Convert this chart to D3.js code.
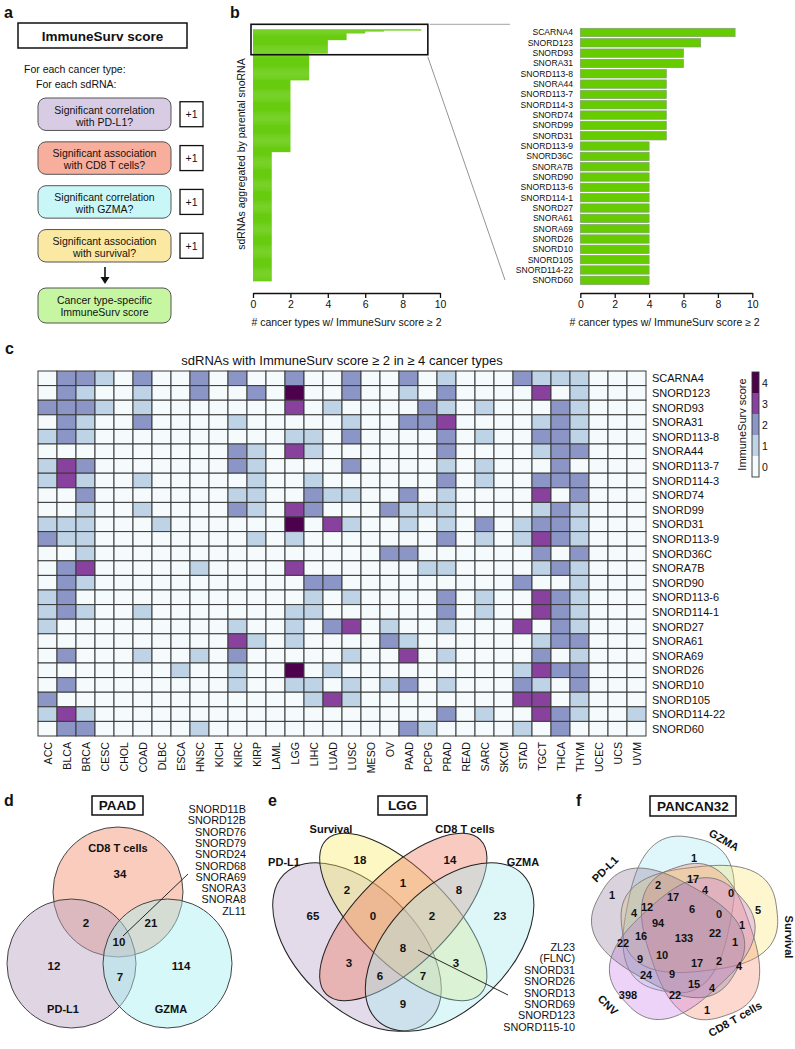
<!DOCTYPE html>
<html><head><meta charset="utf-8">
<script src="https://cdn.jsdelivr.net/npm/d3@7"></script>
<style>
body{margin:0;background:#fff;}
svg{display:block;font-family:"Liberation Sans",Arial,Helvetica,sans-serif;}
</style></head><body>
<svg id="fig" width="795" height="1049"></svg>
<script>
// ================= DATA =================
const flowTitle = "ImmuneSurv score";
const flowIntro = ["For each cancer type:", "For each sdRNA:"];
const flowSteps = [
  ["Significant correlation", "with PD-L1?"],
  ["Significant association", "with CD8 T cells?"],
  ["Significant correlation", "with GZMA?"],
  ["Significant association", "with survival?"]
];
const flowStepScore = "+1";
const flowResult = ["Cancer type-specific", "ImmuneSurv score"];

const topNames = ["SCARNA4","SNORD123","SNORD93","SNORA31","SNORD113-8","SNORA44","SNORD113-7","SNORD114-3","SNORD74","SNORD99","SNORD31","SNORD113-9","SNORD36C","SNORA7B","SNORD90","SNORD113-6","SNORD114-1","SNORD27","SNORA61","SNORA69","SNORD26","SNORD10","SNORD105","SNORD114-22","SNORD60"];
const topValues = [9,7,6,6,5,5,5,5,5,5,5,4,4,4,4,4,4,4,4,4,4,4,4,4,4];
// remaining parental snoRNAs (sorted)
const otherValues = [
  3,3,3,3,3,3,3,3,3,3, 3,3,3,3,3,3,3,3,3,3, 3,3,3,3,3,3,3,3,
  2,2,2,2,2,2,2,2,2,2, 2,2,2,2,2,2,2,2,2,2, 2,2,2,2,2,2,2,2,2,2,
  2,2,2,2,2,2,2,2,2,2, 2,2,2,2,2,2,2,2,2,2, 2,2,2,2,2,2,2,2,2,2,
  2,2,2,2,2,2,2,2,2,2, 2,2,2,2,2,
  1,1,1,1,1,1,1,1,1,1, 1,1,1,1,1,1,1,1,1,1, 1,1,1,1,1,1,1,1,1,1,
  1,1,1,1,1,1,1,1,1,1, 1,1,1,1,1,1,1,1,1,1, 1,1,1,1,1,1,1,1,1,1,
  1,1,1,1,1,1,1,1,1,1, 1,1,1,1,1,1,1,1,1,1, 1,1,1,1,1,1,1,1,1,1,
  1,1,1,1,1,1,1,1,1,1, 1,1,1,1,1,1,1,1,1,1, 1,1,1,1,1,1,1,1,1,1,
  1,1,1,1,1,1,1,1,1,1, 1,1,1,1,1
];
const barTicks = [0,2,4,6,8,10];
const barAxisTitle = "# cancer types w/ ImmuneSurv score \u2265 2";
const barYTitle = "sdRNAs aggregated by parental snoRNA";

const cancerTypes = ["ACC","BLCA","BRCA","CESC","CHOL","COAD","DLBC","ESCA","HNSC","KICH","KIRC","KIRP","LAML","LGG","LIHC","LUAD","LUSC","MESO","OV","PAAD","PCPG","PRAD","READ","SARC","SKCM","STAD","TGCT","THCA","THYM","UCEC","UCS","UVM"];
const heatValues = [
  [0,2,2,1,0,2,0,0,2,0,2,0,0,2,0,0,2,0,0,2,0,1,0,0,0,2,1,1,1,0,0,0],
  [0,2,1,0,0,1,0,0,2,0,0,2,0,4,0,0,2,0,0,1,0,2,0,0,0,0,3,0,1,0,0,0],
  [2,2,2,1,0,1,0,0,0,0,0,0,0,3,0,1,0,0,0,0,2,1,0,1,0,0,0,2,1,0,0,0],
  [0,2,1,0,0,2,0,0,0,0,1,0,0,0,0,0,1,0,0,2,2,3,0,0,0,0,1,2,1,0,0,0],
  [1,2,1,0,0,0,0,0,0,0,0,0,0,1,1,0,2,0,0,0,0,2,0,1,0,0,2,2,1,0,0,0],
  [0,0,0,0,0,0,0,0,0,0,2,1,0,3,1,0,0,0,0,0,0,2,0,0,0,0,1,2,2,0,0,0],
  [1,3,2,0,0,0,0,0,0,0,2,1,0,0,0,0,2,0,0,0,0,1,0,1,0,0,0,2,0,0,0,0],
  [1,3,1,0,0,1,0,0,0,0,0,1,0,0,1,0,0,0,0,0,0,2,0,1,0,0,2,2,2,0,0,0],
  [0,0,2,0,0,0,0,0,0,0,1,1,0,0,2,1,1,0,0,2,0,1,0,0,0,0,3,0,2,0,0,0],
  [0,0,1,0,0,1,0,0,0,0,2,1,0,3,2,0,0,0,2,1,1,1,0,0,0,0,1,2,1,0,0,0],
  [1,1,1,0,0,0,1,0,0,0,0,0,0,4,0,3,1,0,0,1,0,1,0,2,0,1,2,2,1,0,0,0],
  [2,1,1,0,0,0,0,0,0,0,0,1,0,1,0,0,0,0,0,0,0,2,0,1,0,1,3,2,1,0,0,0],
  [0,0,1,0,0,0,0,0,0,0,0,0,0,0,0,0,0,0,2,2,0,0,0,0,0,0,2,0,2,0,0,0],
  [0,2,3,0,0,0,0,0,1,0,0,0,0,3,0,0,0,0,0,0,1,1,0,0,0,0,1,2,1,0,0,0],
  [0,2,1,0,0,0,0,0,0,0,0,0,0,0,2,2,0,0,0,0,0,0,0,0,0,2,0,0,1,0,0,0],
  [1,2,0,0,0,0,0,0,0,0,0,0,0,0,1,0,1,0,0,0,0,2,0,1,0,0,3,2,1,0,0,0],
  [1,2,1,0,0,1,0,0,0,0,0,0,0,1,1,0,0,0,0,0,0,2,0,1,0,0,3,2,1,0,0,0],
  [1,0,0,0,0,0,0,0,0,0,1,0,0,1,0,2,3,0,1,0,0,1,0,0,0,3,0,2,1,0,0,0],
  [0,0,0,0,0,0,0,0,0,0,3,1,0,1,0,0,0,0,2,1,0,0,0,0,0,0,1,2,2,0,0,0],
  [0,2,0,0,0,1,0,0,1,0,2,0,0,0,0,0,1,0,0,3,0,1,0,0,0,0,2,0,1,0,0,0],
  [0,0,0,0,0,0,0,1,0,0,1,0,0,4,0,1,0,0,0,0,0,0,0,0,0,1,3,2,2,0,0,0],
  [0,2,0,0,0,0,0,0,0,0,1,0,0,1,1,0,1,0,1,2,0,1,0,0,0,2,1,0,2,0,0,0],
  [2,0,0,0,0,0,0,0,0,0,0,0,0,0,1,3,1,0,0,0,0,0,0,0,0,3,3,0,1,0,0,0],
  [1,3,1,0,0,0,0,0,0,0,0,0,0,0,0,0,0,0,0,0,0,2,0,1,0,0,3,2,1,0,0,1],
  [0,2,2,0,0,0,0,0,1,0,0,0,0,0,0,0,0,0,0,2,1,0,0,0,0,1,0,2,0,0,0,0]
];
const heatTitle = "sdRNAs with ImmuneSurv score \u2265 2 in \u2265 4 cancer types";
const legendLevels = [4,3,2,1,0];
const legendTitle = "ImmuneSurv score";

// Venn d (PAAD): regions C, P, G, CP, CG, PG, CPG
const paadTitle = "PAAD";
const paadSets = ["CD8 T cells","PD-L1","GZMA"];
const paadRegionCounts = [34,12,114,2,21,7,10];
const paadList = ["SNORD11B","SNORD12B","SNORD76","SNORD79","SNORD24","SNORD68","SNORA69","SNORA3","SNORA8","ZL11"];

// Venn e (LGG): regions P,S,C,G,PS,SC,CG,PSC,SCG,PC,PSCG,SG,PCG,PSG,PG
const lggTitle = "LGG";
const lggSets = ["PD-L1","Survival","CD8 T cells","GZMA"];
const lggRegionCounts = [65,18,14,23,2,1,8,0,2,3,8,3,6,7,9];
const lggList = ["ZL23","(FLNC)","SNORD31","SNORD26","SNORD13","SNORD69","SNORD123","SNORD115-10"];

// Venn f (PANCAN32)
const pancanTitle = "PANCAN32";
const pancanSets = ["GZMA","Survival","CD8 T cells","CNV","PD-L1"];
const pancanRegionCounts = [1,2,17,1,4,0,5,17,6,0,4,12,94,1,16,133,22,1,22,9,10,17,2,4,24,9,15,4,398,22,1];

// ================= LAYOUT / STYLE =================
const svg = d3.select("#fig");
function txt(g, x, y, s, size, opts={}) {
  const t = g.append("text").attr("x", x).attr("y", y).text(s)
    .attr("font-size", size).attr("fill", "#111");
  if (opts.anchor) t.attr("text-anchor", opts.anchor);
  if (opts.bold) t.attr("font-weight", "bold");
  if (opts.rot !== undefined) t.attr("transform", `rotate(${opts.rot},${x},${y})`);
  if (opts.mid) t.attr("dominant-baseline", "central");
  return t;
}

// panel letters
[["a",4,18],["b",230,18],["c",5,354],["d",4,806],["e",268,806],["f",576,806]].forEach(p =>
  txt(svg, p[1], p[2], p[0], 16, {bold:true}));

// ---------- panel a ----------
const ga = svg.append("g");
ga.append("rect").attr("x",18).attr("y",23).attr("width",169).attr("height",25)
  .attr("fill","#fff").attr("stroke","#111").attr("stroke-width",1.5);
txt(ga, 102.5, 40.5, flowTitle, 13.5, {anchor:"middle", bold:true});
txt(ga, 24, 73, flowIntro[0], 10.5);
txt(ga, 36, 88, flowIntro[1], 10.5);
const stepFill = ["#d8cce4","#f8ae9c","#c9f7f8","#fbe8a2"];
const stepY = d3.scaleBand().domain(d3.range(flowSteps.length)).range([98,262]).paddingInner(0.26);
flowSteps.forEach((lines,i)=>{
  const y = stepY(i), h = stepY.bandwidth();
  ga.append("rect").attr("x",38).attr("y",y).attr("width",133).attr("height",h)
    .attr("rx",8).attr("fill",stepFill[i]).attr("stroke","#555").attr("stroke-width",1);
  txt(ga, 104.5, y+15.5, lines[0], 10.5, {anchor:"middle"});
  txt(ga, 104.5, y+27.5, lines[1], 10.5, {anchor:"middle"});
  ga.append("rect").attr("x",180).attr("y",y+h/2-12.5).attr("width",23).attr("height",25)
    .attr("fill","#fff").attr("stroke","#111").attr("stroke-width",1.3);
  txt(ga, 191.5, y+h/2+4, flowStepScore, 10.5, {anchor:"middle"});
});
ga.append("line").attr("x1",105).attr("x2",105).attr("y1",267).attr("y2",278)
  .attr("stroke","#111").attr("stroke-width",1.6);
ga.append("path").attr("d","M100.5,277 L109.5,277 L105,284 Z").attr("fill","#111");
ga.append("rect").attr("x",38).attr("y",288).attr("width",133).attr("height",35)
  .attr("rx",8).attr("fill","#c6f6a2").attr("stroke","#555");
txt(ga, 104.5, 303.5, flowResult[0], 10.5, {anchor:"middle"});
txt(ga, 104.5, 316, flowResult[1], 10.5, {anchor:"middle"});

// ---------- panel b ----------
const gb = svg.append("g");
const allValues = topValues.concat(otherValues);
const xL = d3.scaleLinear().domain([0,10]).range([253,440]);
const yL = d3.scaleBand().domain(d3.range(allValues.length)).range([29.3,281]);
gb.selectAll(".barL").data(allValues).join("rect")
  .attr("x", xL(0)).attr("y",(d,i)=>yL(i))
  .attr("width", d=>xL(d)-xL(0)).attr("height", yL.bandwidth()+0.35)
  .attr("fill","#68cc10");
const boxTop = yL(0)-5, boxBot = yL(topValues.length-1)+yL.bandwidth()+1.5;
gb.append("rect").attr("x",xL(0)-2).attr("y",boxTop).attr("width",xL(9.35)-xL(0)+2)
  .attr("height",boxBot-boxTop).attr("fill","none").attr("stroke","#111").attr("stroke-width",1.6);
gb.append("line").attr("x1",xL(9.4)+1).attr("y1",boxTop).attr("x2",510).attr("y2",boxTop)
  .attr("stroke","#999").attr("stroke-width",0.9);
gb.append("line").attr("x1",xL(9.4)-1).attr("y1",boxBot+2).attr("x2",505).attr("y2",280)
  .attr("stroke","#888").attr("stroke-width",0.9);
const axL = gb.append("g").attr("transform","translate(0,293)")
  .call(d3.axisBottom(xL).tickValues(barTicks).tickSize(5).tickSizeOuter(0));
txt(gb, xL(5), 326, barAxisTitle, 10.5, {anchor:"middle"});
txt(gb, 244.5, 154, barYTitle, 10.5, {anchor:"middle", rot:-90});

const xR = d3.scaleLinear().domain([0,10]).range([580.3,752.3]);
const yR = d3.scaleBand().domain(topNames).range([28.3,284.5]).paddingInner(0.19).paddingOuter(0);
gb.selectAll(".barR").data(topNames).join("rect")
  .attr("x", xR(0)).attr("y", d=>yR(d))
  .attr("width",(d,i)=>xR(topValues[i])-xR(0)).attr("height", yR.bandwidth())
  .attr("fill","#66cc00").attr("stroke","#7f9f70").attr("stroke-width",0.7);
gb.selectAll(".lblR").data(topNames).join("text")
  .attr("x", 573).attr("y", d=>yR(d)+yR.bandwidth()/2).attr("dominant-baseline","central")
  .attr("text-anchor","end").attr("font-size",8.6).attr("fill","#111").text(d=>d);
const axR = gb.append("g").attr("transform","translate(0,293)")
  .call(d3.axisBottom(xR).tickValues(barTicks).tickSize(5).tickSizeOuter(0));
txt(gb, xR(4.9), 326, barAxisTitle, 10.5, {anchor:"middle"});
[axL, axR].forEach(a=>{
  a.selectAll("text").attr("font-size",10.5).attr("font-family",null).attr("fill","#111");
  a.selectAll("path,line").attr("stroke","#111").attr("stroke-width",1.3);
});

// ---------- panel c ----------
const gc = svg.append("g");
const xH = d3.scaleBand().domain(cancerTypes).range([38,646]);
const yH = d3.scaleBand().domain(topNames).range([371,736]);
const colorH = d3.scaleOrdinal().domain([0,1,2,3,4])
  .range(["#f5fbfc","#bfd3e6","#8c96c6","#88419d","#4d004b"]);
txt(gc, 342, 365, heatTitle, 13, {anchor:"middle"});
const cells = [];
heatValues.forEach((row,r)=>row.forEach((v,c)=>cells.push({r:topNames[r], c:cancerTypes[c], v})));
gc.selectAll(".cell").data(cells).join("rect")
  .attr("x",d=>xH(d.c)).attr("y",d=>yH(d.r))
  .attr("width",xH.bandwidth()).attr("height",yH.bandwidth())
  .attr("fill",d=>colorH(d.v)).attr("stroke","#3a3a3a").attr("stroke-width",1);
gc.selectAll(".rl").data(topNames).join("text")
  .attr("x",652).attr("y",d=>yH(d)+yH.bandwidth()/2).attr("dominant-baseline","central")
  .attr("font-size",11).attr("fill","#111").text(d=>d);
gc.selectAll(".cl").data(cancerTypes).join("text")
  .attr("transform",d=>`translate(${xH(d)+xH.bandwidth()/2+4},742) rotate(-90)`)
  .attr("text-anchor","end").attr("font-size",10.6).attr("fill","#111").text(d=>d);
const yLeg = d3.scaleBand().domain(legendLevels).range([372,477]);
gc.selectAll(".lg").data(legendLevels).join("rect")
  .attr("x",752).attr("y",d=>yLeg(d)).attr("width",7).attr("height",yLeg.bandwidth())
  .attr("fill",d=>colorH(d));
gc.append("rect").attr("x",752).attr("y",372).attr("width",7).attr("height",105)
  .attr("fill","none").attr("stroke","#333").attr("stroke-width",0.9);
gc.selectAll(".lgt").data(legendLevels).join("text")
  .attr("x",762).attr("y",d=>yLeg(d)+yLeg.bandwidth()/2).attr("dominant-baseline","central")
  .attr("font-size",10.5).attr("fill","#111").text(d=>d);
txt(gc, 746, 424.5, legendTitle, 11, {anchor:"middle", rot:-90});

function titleBox(g, x, y, w, h, s) {
  g.append("rect").attr("x",x).attr("y",y).attr("width",w).attr("height",h)
    .attr("fill","#fff").attr("stroke","#111").attr("stroke-width",1.5);
  txt(g, x+w/2, y+h/2+4.8, s, 13.5, {anchor:"middle", bold:true});
}

// ---------- panel d ----------
const gd = svg.append("g");
titleBox(gd, 92, 796, 51, 19, paadTitle);
const paadCircles = [
  {cx:118, cy:892, r:65, fill:"#f38d6d"},
  {cx:71.5, cy:963.5, r:64.5, fill:"#b9a1c1"},
  {cx:167.5, cy:963.5, r:64.5, fill:"#a7efef"}
];
gd.selectAll(".pc").data(paadCircles).join("circle")
  .attr("cx",d=>d.cx).attr("cy",d=>d.cy).attr("r",d=>d.r)
  .attr("fill",d=>d.fill).attr("fill-opacity",0.45).attr("stroke","#444").attr("stroke-width",1);
const paadSetPos = [[118,848],[63,1009],[171,1009]];
paadSets.forEach((s,i)=>txt(gd, paadSetPos[i][0], paadSetPos[i][1], s, 11, {anchor:"middle", bold:true, mid:true}));
const paadRegionPos = [[120,874],[54,966],[181,966],[86,923],[151,923],[120,977],[119,942]];
paadRegionCounts.forEach((n,i)=>txt(gd, paadRegionPos[i][0], paadRegionPos[i][1], n, 11.5, {anchor:"middle", bold:true, mid:true}));
gd.append("line").attr("x1",123).attr("y1",936).attr("x2",188).attr("y2",874)
  .attr("stroke","#111").attr("stroke-width",0.9);
paadList.forEach((s,i)=>txt(gd, 246, 813+i*11.3, s, 10.8, {anchor:"end"}));

// ---------- panel e ----------
const ge = svg.append("g");
titleBox(ge, 378, 796, 49, 19, lggTitle);
const lggEllipses = [
  {cx:357, cy:947, rx:103, ry:60, rot:45, fill:"#b9a5c9"},
  {cx:403.3, cy:917, rx:109, ry:46, rot:45, fill:"#f7ec6a"},
  {cx:403.3, cy:917, rx:109, ry:46, rot:-45, fill:"#ef7b61"},
  {cx:449.6, cy:947, rx:103, ry:60, rot:-45, fill:"#a9ecf1"}
];
ge.selectAll(".le").data(lggEllipses).join("ellipse")
  .attr("cx",d=>d.cx).attr("cy",d=>d.cy).attr("rx",d=>d.rx).attr("ry",d=>d.ry)
  .attr("transform",d=>`rotate(${d.rot},${d.cx},${d.cy})`)
  .attr("fill",d=>d.fill).attr("fill-opacity",0.4).attr("stroke","#222").attr("stroke-width",1);
const lggSetPos = [[284,862],[331,829],[465,829],[523,862]];
lggSets.forEach((s,i)=>txt(ge, lggSetPos[i][0], lggSetPos[i][1], s, 11, {anchor:"middle", bold:true, mid:true}));
const lggRegionPos = [[313,916],[360,860],[450,860],[500,916],[347,890],[403,883],[459,890],[373,916],[432,916],[349,963],[403,948],[456,963],[380,976],[423,976],[403,1004]];
lggRegionCounts.forEach((n,i)=>txt(ge, lggRegionPos[i][0], lggRegionPos[i][1], n, 11.5, {anchor:"middle", bold:true, mid:true}));
ge.append("line").attr("x1",418).attr("y1",950).attr("x2",508).attr("y2",995)
  .attr("stroke","#111").attr("stroke-width",0.9);
lggList.forEach((s,i)=>txt(ge, 575, 951+i*11.4, s, 10.8, {anchor:"end"}));

// ---------- panel f ----------
const gf = svg.append("g");
titleBox(gf, 650, 796, 86, 20, pancanTitle);
const fCenter = [686, 931], fA = 78, fB = 52, fD = 18, fAlpha = -35.5, fExp = 2.7;
const fPhi = [114, 42, -36, -102, -174];
const fFill = ["#9fe6ef","#f8e36a","#f58a6e","#c77ae8","#8f7897"];
// rounded (super-elliptic) blob outline for each set
function blobPath(cx, cy, rotDeg) {
  const pts = d3.range(0, 72).map(i=>{
    const t = i/72*2*Math.PI, c = Math.cos(t), s = Math.sin(t);
    return [fA*Math.sign(c)*Math.pow(Math.abs(c),2/fExp), fB*Math.sign(s)*Math.pow(Math.abs(s),2/fExp)];
  });
  const r = rotDeg*Math.PI/180;
  const tp = pts.map(p=>[cx + p[0]*Math.cos(r) - p[1]*Math.sin(r), cy + p[0]*Math.sin(r) + p[1]*Math.cos(r)]);
  return d3.line().curve(d3.curveCardinalClosed)(tp);
}
const fShapes = pancanSets.map((s,k)=>{
  const p = fPhi[k]*Math.PI/180;
  const cx = fCenter[0]+fD*Math.cos(p), cy = fCenter[1]-fD*Math.sin(p);
  return {cx, cy, rot:-(fPhi[k]+fAlpha), fill:fFill[k]};
});
gf.selectAll(".fe").data(fShapes).join("path")
  .attr("d",d=>blobPath(d.cx,d.cy,d.rot))
  .attr("fill",d=>d.fill).attr("fill-opacity",0.33).attr("stroke","#777").attr("stroke-width",0.9);
const fSetPos = [[724,840,30],[789,937,90],[735,1019,-30],[608,1005,45],[605,869,-45]];
pancanSets.forEach((s,i)=>txt(gf, fSetPos[i][0], fSetPos[i][1], s, 11, {anchor:"middle", bold:true, mid:true, rot:fSetPos[i][2]}));
const pancanPos = [[694,858],[658,885],[693,879],[612,895],[705,890],[731,893],[758,910],[673,897],[692,909],[719,914],
  [634,913],[647,907],[658,923],[742,925],[641,936],[684,938],[715,933],[735,942],[623,943],[640,959],
  [662,955],[697,963],[719,961],[739,966],[646,975],[672,974],[694,984],[712,988],[628,995],[675,995],[707,1010]];
pancanRegionCounts.forEach((n,i)=>txt(gf, pancanPos[i][0], pancanPos[i][1], n, 11, {anchor:"middle", bold:true, mid:true}));
</script>
</body></html>
